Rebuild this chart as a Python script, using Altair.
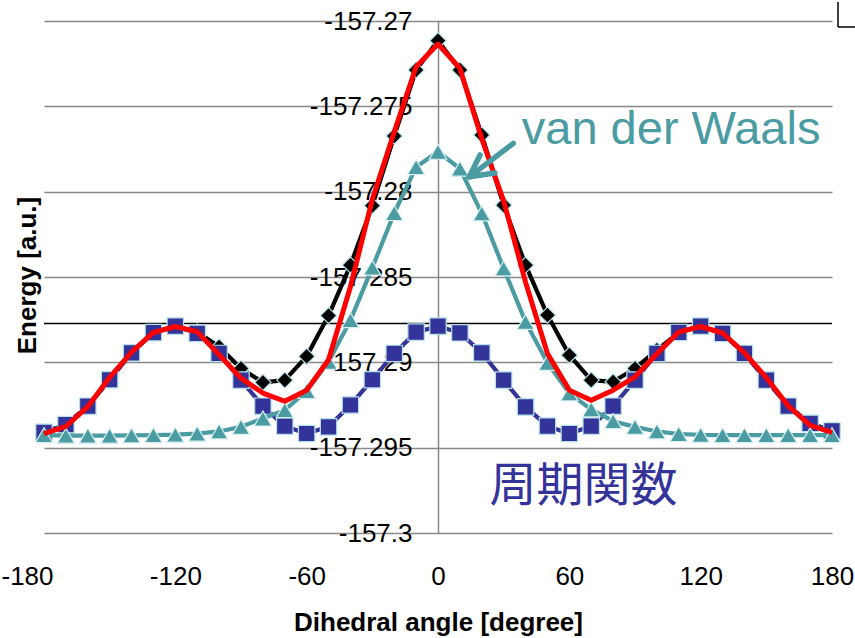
import altair as alt
import pandas as pd

# Dihedral scan: total energy, its two model components and the fitted sum
angles = list(range(-180, 181, 10))

total = [
    -157.29410, -157.29365, -157.29257, -157.29102, -157.28944, -157.28826,
    -157.28788, -157.28822, -157.28909, -157.29036, -157.29117, -157.29104,
    -157.28965, -157.28726, -157.28430, -157.28082, -157.27674, -157.27287,
    -157.27115,
    -157.27287, -157.27668, -157.28079, -157.28430, -157.28723, -157.28958,
    -157.29104, -157.29114, -157.29036, -157.28928, -157.28825, -157.28788,
    -157.28831, -157.28948, -157.29104, -157.29257, -157.29358, -157.29401,
]

periodic = [
    -157.29410, -157.29365, -157.29257, -157.29102, -157.28944, -157.28826,
    -157.28788, -157.28830, -157.28948, -157.29104, -157.29257, -157.29374,
    -157.29417, -157.29378, -157.29250, -157.29102, -157.28948, -157.28823,
    -157.28788,
    -157.28827, -157.28944, -157.29104, -157.29261, -157.29374, -157.29417,
    -157.29374, -157.29257, -157.29104, -157.28948, -157.28825, -157.28788,
    -157.28831, -157.28948, -157.29104, -157.29257, -157.29358, -157.29401,
]

vdw = [
    -157.29427, -157.29430, -157.29430, -157.29430, -157.29428, -157.29426,
    -157.29424, -157.29418, -157.29405, -157.29378, -157.29329, -157.29280,
    -157.29168, -157.28997, -157.28753, -157.28445, -157.28125, -157.27856,
    -157.27766,
    -157.27865, -157.28127, -157.28450, -157.28763, -157.29003, -157.29182,
    -157.29276, -157.29345, -157.29378, -157.29405, -157.29420, -157.29425,
    -157.29427, -157.29427, -157.29427, -157.29427, -157.29427, -157.29427,
]

fit = [
    -157.29417, -157.29375, -157.29260, -157.29088, -157.28940, -157.28825,
    -157.28790, -157.28821, -157.28955, -157.29093, -157.29180, -157.29228,
    -157.29163, -157.28985, -157.28557, -157.28045, -157.27650, -157.27268,
    -157.27135,
    -157.27277, -157.27690, -157.28055, -157.28530, -157.28948, -157.29163,
    -157.29222, -157.29163, -157.29085, -157.28950, -157.28822, -157.28790,
    -157.28828, -157.28945, -157.29090, -157.29255, -157.29370, -157.29410,
]

x_ticks = [-180, -120, -60, 0, 60, 120, 180]
y_ticks = [-157.3, -157.295, -157.29, -157.285, -157.28, -157.275, -157.27]
crossing = [-157.28772]

# annotation: label positions and the arrow pointing at the vdW curve
vdw_label = {"angle": [106.5], "energy": [-157.27639], "text": ["van der Waals"]}
per_label = {"angle": [66.5], "energy": [-157.29732], "text": ["周期関数"]}
arrow = {
    "a0": [34.4, 14.3, 14.3],
    "e0": [-157.27717, -157.27913, -157.27913],
    "a1": [14.3, 19.2, 26.0],
    "e1": [-157.27913, -157.27785, -157.27891],
}

FONT = "Liberation Sans"
GRID = "#898989"
NAVY = "#333399"
TEAL = "#4A9BA2"
EDGE = "#B4E4EA"

xs = alt.Scale(domain=[-180, 180], nice=False, zero=False)
ys = alt.Scale(domain=[-157.3, -157.27], nice=False, zero=False)

x_axis = alt.Axis(
    values=x_ticks, grid=False, ticks=False, domain=False,
    labelExpr="'' + datum.value", labelFont=FONT, labelFontSize=26,
    labelColor="black", labelPadding=30, labelFlush=False,
    labelOffset={"condition": {"test": "datum.value <= -180", "value": -17},
                 "value": 0},
    title="Dihedral angle [degree]", titleFont=FONT, titleFontSize=26,
    titleFontWeight="bold", titleColor="black", titlePadding=20,
)
y_axis = alt.Axis(
    values=y_ticks, offset=-394, grid=True, gridColor=GRID, gridWidth=1.5,
    domain=True, domainColor=GRID, domainWidth=1.5, ticks=False,
    labelExpr="'' + datum.value", labelFont=FONT, labelFontSize=26,
    labelColor="black", labelPadding=26, labelBaseline="middle",
    title="Energy [a.u.]", titleFont=FONT, titleFontSize=26,
    titleFontWeight="bold", titleColor="black", titleAngle=270,
    titleX=-411, titleY=254, titleAlign="center", titleBaseline="middle",
)


def X(field):
    return alt.X(f"{field}:Q", scale=xs, axis=x_axis)


def Y(field):
    return alt.Y(f"{field}:Q", scale=ys, axis=y_axis)


def series(values, color, shape, size, width, edge=EDGE):
    df = pd.DataFrame({"angle": angles, "energy": values})
    base = alt.Chart(df).encode(x=X("angle"), y=Y("energy"))
    line = base.mark_line(color=color, strokeWidth=width, strokeJoin="round")
    if shape is None:
        return line
    pts = base.mark_point(
        shape=shape, size=size, filled=True, fill=color, fillOpacity=1,
        stroke=edge, strokeWidth=1.2, opacity=1,
    )
    return line + pts


cross_rule = alt.Chart(pd.DataFrame({"energy": crossing})).mark_rule(
    color="black", strokeWidth=1.5
).encode(y=Y("energy"))

total_layer = series(total, "black", "diamond", 260, 4.2)
periodic_layer = series(periodic, NAVY, "square", 270, 4.2)
vdw_layer = series(vdw, TEAL, "triangle-up", 300, 4.2, edge="#D8F0F2")
fit_layer = series(fit, "#FF0000", None, 0, 5)

vdw_text = alt.Chart(pd.DataFrame(vdw_label)).mark_text(
    font=FONT, fontSize=47, color=TEAL, align="center", baseline="middle"
).encode(x=X("angle"), y=Y("energy"), text="text:N")

per_text = alt.Chart(pd.DataFrame(per_label)).mark_text(
    font="Noto Sans CJK JP", fontSize=47, color=NAVY, align="center",
    baseline="middle"
).encode(x=X("angle"), y=Y("energy"), text="text:N")

arrow_layer = alt.Chart(pd.DataFrame(arrow)).mark_rule(
    color=TEAL, strokeWidth=5.5, strokeCap="round"
).encode(x=X("a0"), y=Y("e0"), x2="a1:Q", y2="e1:Q")

# clipped corner of a box peeking in at the top right
corner = alt.Chart(pd.DataFrame({"k": [0]})).mark_rule(
    color="black", strokeWidth=1.5
).encode(x=alt.value(794), y=alt.value(-19), y2=alt.value(6))
corner2 = alt.Chart(pd.DataFrame({"k": [0]})).mark_rule(
    color="black", strokeWidth=1.5
).encode(x=alt.value(794), x2=alt.value(812), y=alt.value(6))

chart = alt.layer(
    cross_rule,
    total_layer,
    periodic_layer,
    vdw_layer,
    fit_layer,
    arrow_layer,
    vdw_text,
    per_text,
    corner,
    corner2,
).properties(
    width=788,
    height=512,
    autosize=alt.AutoSizeParams(type="none"),
    padding={"left": 44, "top": 21, "right": 23, "bottom": 105},
    background="white",
).configure_view(stroke=None)

chart.save("out.html", embed_options={"renderer": "svg", "actions": False})
